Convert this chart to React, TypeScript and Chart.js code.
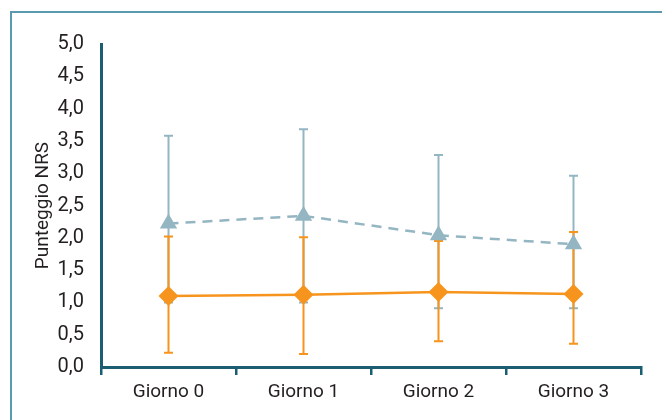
import React, { useEffect, useRef } from "react";
import { Chart, registerables } from "chart.js";

Chart.register(...registerables);

const categories = ["Giorno 0", "Giorno 1", "Giorno 2", "Giorno 3"];
const blueMean = [2.22, 2.34, 2.04, 1.9];
const blueUpper = [3.58, 3.68, 3.28, 2.96];
const blueLower = [1.0, 1.0, 0.91, 0.91];
const orangeMean = [1.1, 1.12, 1.16, 1.13];
const orangeUpper = [2.02, 2.01, 1.95, 2.09];
const orangeLower = [0.22, 0.2, 0.4, 0.36];
const yTicks = [0, 0.5, 1, 1.5, 2, 2.5, 3, 3.5, 4, 4.5, 5];

const BLUE = "#93b6c2";
const ORANGE = "#f7941d";
const AXIS = "#1b5e72";
const TEXT = "#231f20";
const FONT = "Roboto, 'Noto Sans', sans-serif";

const errorBars = {
  id: "errorBars",
  beforeDatasetsDraw(chart: any) {
    const ctx = chart.ctx;
    const x = chart.scales.x;
    const y = chart.scales.y;
    const sets = [
      { up: blueUpper, lo: blueLower, color: BLUE },
      { up: orangeUpper, lo: orangeLower, color: ORANGE },
    ];
    ctx.save();
    sets.forEach((s) => {
      ctx.strokeStyle = s.color;
      ctx.lineWidth = 2;
      categories.forEach((_, i) => {
        const px = x.getPixelForValue(i);
        const yu = y.getPixelForValue(s.up[i]);
        const yl = y.getPixelForValue(s.lo[i]);
        ctx.beginPath();
        ctx.moveTo(px, yu);
        ctx.lineTo(px, yl);
        ctx.moveTo(px - 4.5, yu);
        ctx.lineTo(px + 4.5, yu);
        ctx.moveTo(px - 4.5, yl);
        ctx.lineTo(px + 4.5, yl);
        ctx.stroke();
      });
    });
    ctx.restore();
  },
};

export default function App() {
  const ref = useRef<HTMLCanvasElement>(null);
  useEffect(() => {
    if (!ref.current) return;
    const chart = new Chart(ref.current, {
      type: "line",
      data: {
        labels: categories,
        datasets: [
          {
            data: blueMean,
            borderColor: BLUE,
            backgroundColor: BLUE,
            borderWidth: 2.5,
            borderDash: [10, 7],
            pointStyle: "triangle",
            pointRadius: 10,
            pointBorderWidth: 0,
          },
          {
            data: orangeMean,
            borderColor: ORANGE,
            backgroundColor: ORANGE,
            borderWidth: 2.5,
            pointStyle: "rectRot",
            pointRadius: 10,
            pointBorderWidth: 0,
          },
        ],
      },
      options: {
        animation: false,
        responsive: false,
        layout: { padding: { left: 0, top: 44, right: 21, bottom: 0 } },
        plugins: { legend: { display: false }, tooltip: { enabled: false } },
        scales: {
          x: {
            type: "category",
            offset: true,
            afterFit: (s: any) => {
              s.height = 53;
            },
            grid: {
              offset: true,
              drawOnChartArea: false,
              drawTicks: true,
              tickLength: 8,
              color: AXIS,
              lineWidth: 2.5,
            },
            border: { color: AXIS, width: 3 },
            ticks: {
              color: TEXT,
              font: { family: FONT, size: 19 },
              padding: 6,
            },
          },
          y: {
            min: 0,
            max: 5,
            afterFit: (s: any) => {
              s.width = 101;
            },
            afterBuildTicks: (s: any) => {
              s.ticks = yTicks.map((v) => ({ value: v }));
            },
            grid: { display: false, drawTicks: false },
            border: { color: AXIS, width: 3 },
            ticks: {
              color: TEXT,
              font: { family: FONT, size: 20 },
              padding: 17,
              callback: (v: any) => Number(v).toFixed(1).replace(".", ","),
            },
            title: {
              display: true,
              text: "Punteggio NRS",
              color: TEXT,
              font: { family: FONT, size: 19 },
              padding: { top: 32, bottom: 0 },
            },
          },
        },
      },
      plugins: [errorBars],
    });
    return () => chart.destroy();
  }, []);

  return (
    <div style={{ position: "fixed", left: 0, top: 0, width: 662, height: 420, background: "#fff" }}>
      <div
        style={{
          position: "absolute",
          left: 10,
          top: 11,
          right: 0,
          bottom: 0,
          borderLeft: "2px solid #5b9aae",
          borderTop: "2px solid #5b9aae",
        }}
      />
      <canvas ref={ref} width={662} height={420} style={{ position: "absolute", left: 0, top: 0 }} />
    </div>
  );
}
